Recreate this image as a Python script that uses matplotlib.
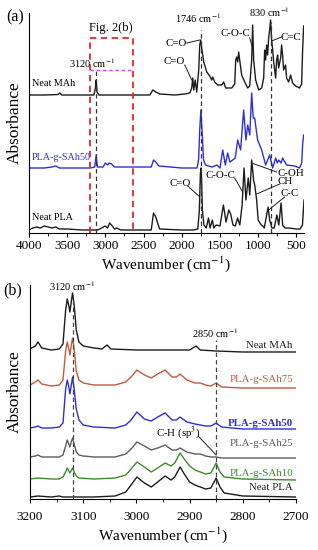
import matplotlib
matplotlib.use('Agg')
import matplotlib.pyplot as plt
from matplotlib.ticker import MultipleLocator

plt.rcParams['font.family'] = ['Liberation Serif', 'DejaVu Serif']
plt.rcParams['mathtext.fontset'] = 'stix'

# ---- panel (a): full FTIR spectra, values are offset absorbance (a.u.) ----
wn_mah_a = [4000, 3790, 3620, 3595, 3570, 3200, 3150, 3130, 3120, 3110, 3085, 2418, 2380, 2340,
            2290, 2090, 1960, 1895, 1870, 1856, 1843, 1824, 1804, 1778, 1765, 1752, 1739, 1712,
            1673, 1634, 1608, 1595, 1569, 1530, 1477, 1451, 1425, 1346, 1307, 1294, 1280, 1268,
            1255, 1242, 1216, 1176, 1137, 1111, 1085, 1072, 1059, 1033, 993, 954, 928, 915, 902,
            889, 876, 863, 850, 837, 824, 810, 797, 771, 758, 745, 732, 706, 693, 680, 667, 641,
            628, 601, 575, 549, 510, 458, 431, 418, 405]
abs_mah_a = [138, 138, 138.5, 140, 138, 138, 138, 145, 153, 141, 138, 138, 143, 141,
             139, 138, 139, 140, 145, 155, 143, 153, 141, 163, 188, 193, 185, 171,
             161, 157, 153, 156, 151, 148, 148, 151, 145, 145, 149, 173, 176, 171,
             181, 173, 158, 151, 145, 147, 173, 208, 173, 153, 143, 145, 155, 183, 173,
             188, 178, 195, 203, 213, 193, 183, 171, 155, 173, 178, 165, 175, 188, 178, 163, 168,
             155, 151, 158, 150, 147, 145, 149, 183, 207]

wn_sah50_a = [4000, 3800, 3700, 3650, 3600, 3200, 3140, 3120, 3105, 3030, 3000, 2970, 2950, 2920,
              2880, 2400, 2370, 2340, 2300, 2000, 1800, 1780, 1765, 1750, 1735, 1715, 1690, 1650,
              1600, 1540, 1500, 1464, 1430, 1399, 1370, 1333, 1300, 1268, 1230, 1190, 1160, 1137,
              1110, 1085, 1065, 1046, 1007, 954, 902, 850, 810, 771, 750, 732, 700, 680, 628, 523,
              458, 430, 418, 405]
abs_sah50_a = [65, 65, 66, 67, 65, 65, 66, 78, 66, 66, 70, 68, 70, 69,
               66, 66, 73, 71, 67, 65, 65, 73, 103, 123, 103, 73, 68, 67,
               66, 68, 65, 83, 68, 80, 71, 73, 75, 93, 83, 123, 93, 108,
               98, 140, 115, 115, 93, 83, 68, 78, 65, 75, 70, 73, 70, 75, 68, 67,
               65, 70, 88, 98]

wn_pla_a = [4000, 3950, 3900, 3850, 3800, 3750, 3700, 3650, 3600, 3500, 3300, 3100, 3000, 2970,
            2945, 2920, 2880, 2850, 2800, 2400, 2370, 2340, 2320, 2290, 2000, 1850, 1790, 1770,
            1757, 1750, 1743, 1730, 1710, 1680, 1650, 1630, 1600, 1580, 1550, 1500, 1455, 1420,
            1385, 1360, 1330, 1300, 1270, 1240, 1210, 1185, 1160, 1130, 1110, 1085, 1060, 1045,
            1020, 1000, 960, 940, 920, 870, 850, 820, 790, 755, 730, 700, 680, 650, 600, 500, 450,
            420, 400]
abs_pla_a = [3, 5, 6, 5, 7, 6, 5, 6, 4, 4, 3, 3, 7, 5,
             10, 8, 4, 5, 3, 3, 20, 16, 11, 4, 3, 3, 4, 23,
             58, 65, 58, 23, 8, 5, 15, 5, 13, 5, 8, 7, 28, 11,
             23, 19, 8, 7, 15, 8, 28, 65, 33, 55, 38, 73, 53, 48,
             33, 13, 8, 7, 5, 26, 13, 5, 5, 18, 8, 30, 8, 5, 5, 4, 4,
             8, 33]

# ---- panel (b): 3200-2700 cm-1 region ----
wn_mah_b = [3200, 3190, 3185, 3178, 3160, 3145, 3138, 3133, 3130, 3127, 3125, 3122, 3120, 3117,
            3113, 3108, 3100, 3080, 3065, 3055, 3048, 3000, 2950, 2900, 2888, 2880, 2850, 2800, 2700]
abs_mah_b = [150, 153, 157, 151, 149, 150, 155, 189, 200, 193, 187, 199, 206, 194,
             169, 157, 153, 151, 150, 154, 150, 149, 149, 149, 153, 149, 148, 147, 147]

wn_graft_b = [3200, 3190, 3185, 3178, 3160, 3145, 3138, 3133, 3130, 3127, 3125, 3122, 3120, 3117,
              3113, 3108, 3100, 3080, 3040, 3020, 3010, 2999, 2985, 2972, 2960, 2946, 2933, 2925,
              2918, 2905, 2890, 2880, 2870, 2860, 2850, 2840, 2800, 2700]
abs_sah75_b = [114, 117, 119, 115, 113, 114, 119, 148, 157, 150, 144, 155, 161, 150,
               128, 119, 116, 114, 114, 117, 122, 129, 124, 121, 125, 129, 122, 122,
               125, 119, 116, 116, 114, 113, 116, 112, 111, 111]
abs_sah50_b = [71, 72, 73, 71, 71, 72, 76, 110, 119, 112, 105, 115, 122, 110,
               90, 79, 74, 72, 71, 74, 79, 87, 80, 78, 82, 86, 79, 79,
               82, 77, 75, 74, 73, 73, 76, 72, 70, 70]
abs_sah25_b = [42, 43, 44, 42, 42, 42, 44, 53, 59, 55, 52, 58, 61, 55,
               47, 44, 43, 42, 42, 45, 50, 57, 53, 49, 51, 54, 49, 49,
               51, 47, 45, 45, 43, 42, 42, 41, 41, 41]

wn_pla_b = [3200, 3185, 3160, 3145, 3138, 3133, 3130, 3127, 3125, 3122, 3120, 3117, 3113, 3108,
            3080, 3040, 3020, 3010, 2999, 2985, 2972, 2960, 2946, 2935, 2928, 2918, 2910, 2900,
            2890, 2880, 2870, 2860, 2850, 2843, 2835, 2800, 2700]
abs_sah10_b = [20, 21, 20, 20, 22, 27, 31, 28, 26, 29, 31, 27, 23, 21,
               20, 21, 24, 30, 37, 32, 27, 31, 36, 33, 36, 46, 40, 33,
               29, 27, 25, 26, 36, 27, 22, 20, 19]
abs_pla_b = [2, 3, 2, 3, 2, 2, 2, 2, 2, 2, 2, 2, 2, 2,
             2, 3, 7, 14, 22, 16, 12, 17, 23, 19, 22, 32, 25, 17,
             14, 12, 10, 11, 21, 12, 6, 3, 2]

BLACK = '#1c1c1c'
BLUE = '#2f2fd6'
BROWN = '#c05a3a'
GRAY = '#5c5c5c'
GREEN = '#3d8b2d'
DASH = (0, (3.5, 2.5))


def style_axis(ax):
    for side in ['top', 'right']:
        ax.spines[side].set_visible(False)
    ax.set_yticks([])
    ax.tick_params(axis='x', which='major', direction='out', length=3, width=0.8,
                   labelsize=9.5, pad=2)
    ax.tick_params(axis='x', which='minor', direction='out', length=2, width=0.6)


fig = plt.figure(figsize=(3.18, 5.5), dpi=100)

# ---------------- panel (a) ----------------
ax1 = fig.add_axes([29 / 318, 1 - 233 / 550, 275 / 318, 220 / 550])
ax1.plot(wn_mah_a, abs_mah_a, color=BLACK, lw=1.0)
ax1.plot(wn_sah50_a, abs_sah50_a, color=BLUE, lw=1.0)
ax1.plot(wn_pla_a, abs_pla_a, color=BLACK, lw=1.0)
ax1.set_xlim(4000, 400)
ax1.set_ylim(0, 220)
ax1.xaxis.set_major_locator(MultipleLocator(500))
ax1.xaxis.set_minor_locator(MultipleLocator(250))
style_axis(ax1)

# Fig. 2(b) box
ax1.plot([3200, 3200, 2640, 2640], [0, 195, 195, 0], color='#e0262a', lw=1.3,
         linestyle=DASH, clip_on=False)
ax1.plot([3200, 2640], [163, 163], color='#e040e0', lw=1.0, linestyle=(0, (2.5, 2)))
ax1.text(2928, 205, 'Fig. 2(b)', ha='center', va='center', fontsize=9)
ax1.plot([3120, 3120], [0, 163], color='#333333', lw=0.9, linestyle=DASH)
ax1.text(3176, 170, '3120 cm$^{-1}$', ha='center', va='center', fontsize=7.5)
ax1.plot([1746, 1746], [0, 203], color='#333333', lw=0.9, linestyle=DASH)
ax1.text(1791, 215, '1746 cm$^{-1}$', ha='center', va='center', fontsize=7.5)
ax1.plot([830, 830], [0, 211], color='#333333', lw=0.9, linestyle=DASH, clip_on=False)
ax1.text(850, 221, '830 cm$^{-1}$', ha='center', va='center', fontsize=7.5, clip_on=False)

ax1.text(3961, 150, 'Neat MAh', ha='left', va='center', fontsize=7.3)
ax1.text(3961, 75, 'PLA-g-SAh50', ha='left', va='center', fontsize=7.3, color=BLUE)
ax1.text(3961, 15, 'Neat PLA', ha='left', va='center', fontsize=7.3)

# band assignments: (label, text pos, line start, line end)
notes_a = [
    ('C=O', (2078, 190), (1935, 190), (1765, 193)),
    ('C=O', (2105, 171), (1961, 168), (1869, 153)),
    ('C-O-C', (1294, 200), (1111, 195), (1072, 185)),
    ('C=C', (575, 196), (693, 196), (824, 192)),
    ('C=O', (2026, 50), (1922, 47), (1778, 37)),
    ('C-O-C', (1490, 58), (1307, 55), (1203, 41)),
    ('C-OH', (575, 60), (758, 61), (1085, 70)),
    ('CH', (654, 51), (719, 49), (1020, 39)),
    ('C-C', (588, 39), (654, 36), (863, 23)),
]
for label, tpos, p0, p1 in notes_a:
    ax1.text(tpos[0], tpos[1], label, ha='center', va='center', fontsize=7.8)
    ax1.plot([p0[0], p1[0]], [p0[1], p1[1]], color=BLACK, lw=0.7)

fig.text(15 / 318, 1 - 123 / 550, 'Absorbance', rotation=90, ha='center', va='center',
         fontsize=12.5)
fig.text(166 / 318, 1 - 264 / 550, 'Wavenumber (cm$^{-1}$)', ha='center', va='center',
         fontsize=11)
fig.text(15 / 318, 1 - 17 / 550, '(a)', ha='center', va='center', fontsize=11.5)

# ---------------- panel (b) ----------------
ax2 = fig.add_axes([30 / 318, 1 - 499 / 550, 266 / 318, 214 / 550])
ax2.plot(wn_mah_b, abs_mah_b, color=BLACK, lw=1.0)
ax2.plot(wn_graft_b, abs_sah75_b, color=BROWN, lw=1.0)
ax2.plot(wn_graft_b, abs_sah50_b, color=BLUE, lw=1.0)
ax2.plot(wn_graft_b, abs_sah25_b, color=GRAY, lw=1.0)
ax2.plot(wn_pla_b, abs_sah10_b, color=GREEN, lw=1.0)
ax2.plot(wn_pla_b, abs_pla_b, color=BLACK, lw=1.0)
ax2.set_xlim(3200, 2700)
ax2.set_ylim(0, 214)
ax2.xaxis.set_major_locator(MultipleLocator(100))
ax2.xaxis.set_minor_locator(MultipleLocator(50))
style_axis(ax2)
ax2.tick_params(axis='x', which='major', pad=6)

ax2.plot([3120, 3120], [0, 203], color='#444444', lw=0.9, linestyle=DASH)
ax2.text(3121, 213, '3120 cm$^{-1}$', ha='center', va='center', fontsize=7.5, clip_on=False)
ax2.plot([2850, 2850], [0, 159], color='#444444', lw=0.9, linestyle=DASH)
ax2.text(2852, 166, '2850 cm$^{-1}$', ha='center', va='center', fontsize=7.5)

ax2.text(2706, 153, 'Neat MAh', ha='right', va='center', fontsize=7.8, color=BLACK)
ax2.text(2706, 119, 'PLA-g-SAh75', ha='right', va='center', fontsize=7.8, color=BROWN)
ax2.text(2706, 76, 'PLA-g-SAh50', ha='right', va='center', fontsize=7.8, color=BLUE,
         fontweight='bold')
ax2.text(2706, 56, 'PLA-g-SAh25', ha='right', va='center', fontsize=7.8, color=GRAY)
ax2.text(2706, 26, 'PLA-g-SAh10', ha='right', va='center', fontsize=7.8, color=GREEN)
ax2.text(2706, 11, 'Neat PLA', ha='right', va='center', fontsize=7.8, color=BLACK)

ax2.text(2922, 66, 'C-H (sp$^3$)', ha='center', va='center', fontsize=7.8)
ax2.plot([2884, 2850], [63, 44], color=BLACK, lw=0.7)

fig.text(15 / 318, 1 - 392 / 550, 'Absorbance', rotation=90, ha='center', va='center',
         fontsize=12.5)
fig.text(163 / 318, 1 - 535 / 550, 'Wavenumber (cm$^{-1}$)', ha='center', va='center',
         fontsize=11)
fig.text(13 / 318, 1 - 290 / 550, '(b)', ha='center', va='center', fontsize=11.5)

fig.savefig('out.png', dpi=100)
